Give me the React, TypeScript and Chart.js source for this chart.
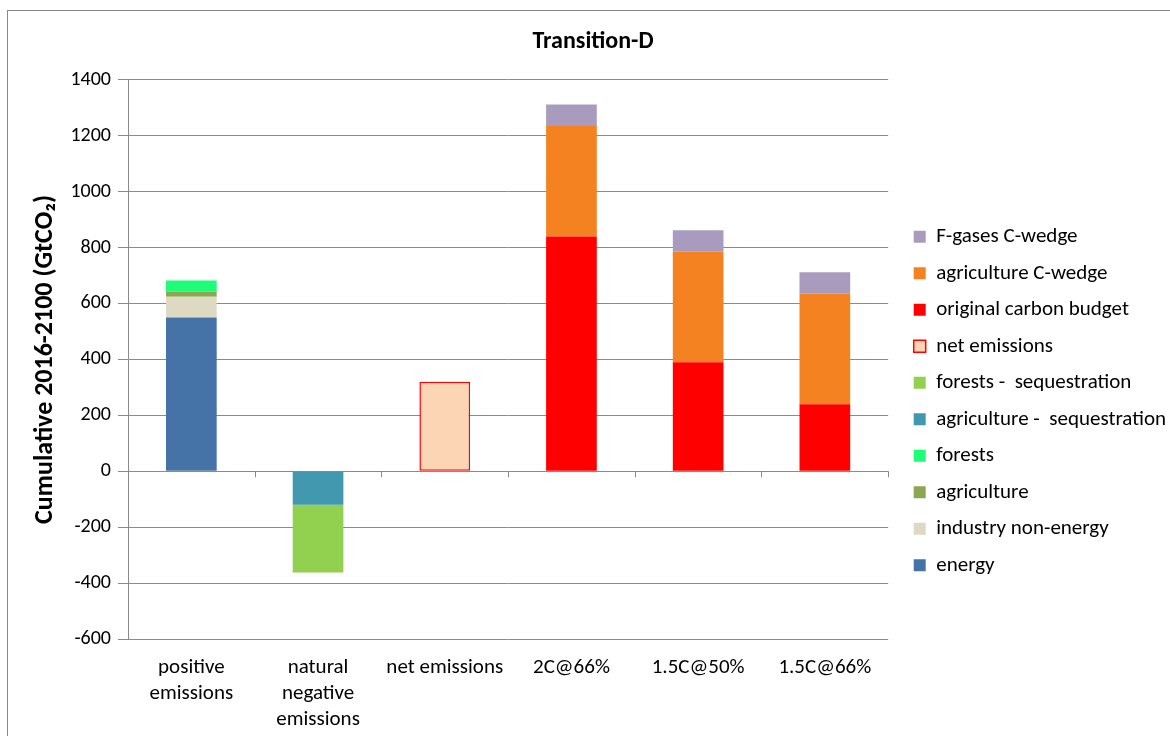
import React, { useEffect, useRef } from "react";
import { Chart, registerables } from "chart.js";

Chart.register(...registerables);

const categories: (string | string[])[] = [
  ["positive", "emissions"],
  ["natural", "negative", "emissions"],
  "net emissions",
  "2C@66%",
  "1.5C@50%",
  "1.5C@66%",
];

const yTickValues = [-600, -400, -200, 0, 200, 400, 600, 800, 1000, 1200, 1400];

// Cumulative 2016-2100 amounts in GtCO2, one entry per category
const energy = [550, null, null, null, null, null];
const industryNonEnergy = [74, null, null, null, null, null];
const agriculture = [18, null, null, null, null, null];
const forests = [40, null, null, null, null, null];
const agricultureSequestration = [null, -120, null, null, null, null];
const forestsSequestration = [null, -242, null, null, null, null];
const netEmissions = [null, null, 320, null, null, null];
const originalCarbonBudget = [null, null, null, 840, 390, 240];
const agricultureCWedge = [null, null, null, 395, 395, 395];
const fGasesCWedge = [null, null, null, 77, 77, 77];

const FONT = "Carlito, Calibri, Lato, sans-serif";
const GRID = "#8a8a8a";

// small downward tick marks on the zero line between categories
const zeroLineTicks = {
  id: "zeroLineTicks",
  afterDatasetsDraw(chart: any) {
    const xs = chart.scales.x;
    const ys = chart.scales.y;
    const y0 = ys.getPixelForValue(0);
    const ctx = chart.ctx;
    ctx.save();
    ctx.strokeStyle = GRID;
    ctx.lineWidth = 1;
    ctx.beginPath();
    for (let i = 0; i <= categories.length; i++) {
      const px = Math.round(xs.getPixelForValue(i - 0.5)) + 0.5;
      ctx.moveTo(px, y0);
      ctx.lineTo(px, y0 + 6);
    }
    ctx.stroke();
    ctx.restore();
  },
};

// leave a wider gap between the plot and the legend, and move the legend down a little
const legendOffset = {
  id: "legendOffset",
  afterLayout(chart: any) {
    const lg = chart.legend;
    if (!lg) return;
    lg.left += 10;
    lg.right += 10;
    lg.top += 33;
    lg.bottom += 33;
  },
};

export default function App() {
  const canvasRef = useRef<HTMLCanvasElement | null>(null);

  useEffect(() => {
    if (!canvasRef.current) return;
    const bar = (label: string, data: (number | null)[], color: string, extra: any = {}) => ({
      label,
      data,
      backgroundColor: color,
      borderWidth: 0,
      barPercentage: 0.4,
      categoryPercentage: 1,
      ...extra,
    });
    const chart = new Chart(canvasRef.current, {
      type: "bar",
      data: {
        labels: categories,
        datasets: [
          bar("energy", energy, "#4573A7"),
          bar("industry non-energy", industryNonEnergy, "#DDD9C3"),
          bar("agriculture", agriculture, "#8DA652"),
          bar("forests", forests, "#1FFC78"),
          bar("agriculture -  sequestration", agricultureSequestration, "#4298AF"),
          bar("forests -  sequestration", forestsSequestration, "#92D050"),
          bar("net emissions", netEmissions, "#FCD5B5", {
            borderColor: "#FF0000",
            borderWidth: 1.5,
            borderSkipped: false,
          }),
          bar("original carbon budget", originalCarbonBudget, "#FF0000"),
          bar("agriculture C-wedge", agricultureCWedge, "#F58220"),
          bar("F-gases C-wedge", fGasesCWedge, "#A99BBD"),
        ],
      },
      options: {
        animation: false,
        responsive: false,
        devicePixelRatio: 1,
        layout: { padding: { left: 20, right: 4, top: 0, bottom: 0 } },
        plugins: {
          title: {
            display: true,
            text: "Transition-D",
            color: "#000",
            font: { family: FONT, size: 24, weight: "bold" },
            padding: { top: 28, bottom: 23 },
          },
          legend: {
            position: "right",
            reverse: true,
            labels: {
              color: "#000",
              font: { family: FONT, size: 21 },
              boxWidth: 12,
              boxHeight: 12,
              padding: 15.5,
            },
          },
          tooltip: { enabled: false },
        },
        scales: {
          x: {
            stacked: true,
            grid: { display: false, drawTicks: false },
            border: { display: false },
            ticks: {
              color: "#000",
              font: { family: FONT, size: 21, lineHeight: 1.23 },
              maxRotation: 0,
              autoSkip: false,
              padding: 16,
            },
            afterFit(scale: any) {
              scale.height = 97;
            },
          },
          y: {
            stacked: true,
            min: -600,
            max: 1400,
            afterBuildTicks(scale: any) {
              scale.ticks = yTickValues.map((v) => ({ value: v }));
            },
            grid: { color: GRID, lineWidth: 1, tickLength: 10, drawTicks: true },
            border: { display: true, color: GRID },
            ticks: {
              color: "#000",
              font: { family: FONT, size: 20 },
              padding: 7,
              callback: (v: any) => String(v),
            },
            title: {
              display: true,
              text: "Cumulative 2016-2100 (GtCO\u2082)",
              color: "#000",
              font: { family: FONT, size: 26, weight: "bold" },
              padding: { top: 10, bottom: 0 },
            },
            afterFit(scale: any) {
              scale.width = 108;
            },
          },
        },
      },
      plugins: [zeroLineTicks, legendOffset],
    } as any);
    return () => chart.destroy();
  }, []);

  return (
    <div
      style={{
        position: "fixed",
        left: 0,
        top: 0,
        width: 1170,
        height: 736,
        background: "#fff",
        overflow: "hidden",
      }}
    >
      <div
        style={{
          position: "absolute",
          left: 7,
          top: 10,
          width: 1180,
          height: 800,
          border: "1px solid #8a8a8a",
          boxSizing: "border-box",
        }}
      />
      <canvas
        ref={canvasRef}
        width={1170}
        height={736}
        style={{ position: "absolute", left: 0, top: 0 }}
      />
    </div>
  );
}
